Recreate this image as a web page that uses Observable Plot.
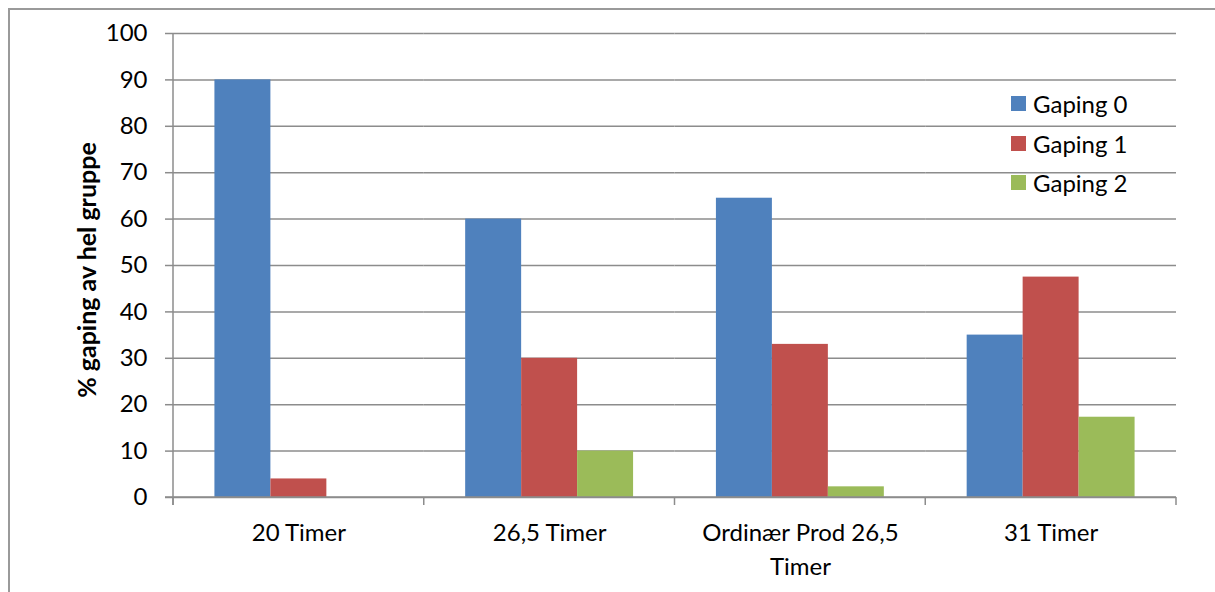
<!DOCTYPE html>
<html><head><meta charset="utf-8">
<script src="https://cdn.jsdelivr.net/npm/d3@7"></script>
<script src="https://cdn.jsdelivr.net/npm/@observablehq/plot@0.6"></script>
<style>
body{margin:0;background:#fff;font-family:Lato,"Open Sans",sans-serif;}
#wrap{position:relative;width:1215px;height:592px;overflow:hidden;background:#fff;}
#border{position:absolute;left:8px;top:8px;width:1400px;height:800px;border-left:2px solid #9a9a9a;border-top:2px solid #9a9a9a;}
#ytitle{position:absolute;left:86px;top:270px;transform:translate(-50%,-50%) rotate(-90deg);white-space:nowrap;font-weight:bold;font-size:25px;color:#000;}
#legend{position:absolute;left:1011px;top:84px;}
.row{display:flex;align-items:center;height:39.5px;}
.sw{width:15px;height:15px;margin-right:7px;flex:none;}
.lt{font-size:24px;color:#000;}
svg{position:absolute;left:0;top:0;}
</style></head>
<body><div id="wrap"><div id="border"></div></div>
<script>
const categories = ["20 Timer","26,5 Timer","Ordinær Prod 26,5 Timer","31 Timer"];
const tickLabels = ["20 Timer","26,5 Timer","Ordinær Prod 26,5\nTimer","31 Timer"];
const series = ["Gaping 0","Gaping 1","Gaping 2"];
const gaping0 = [90, 60, 64.5, 35];
const gaping1 = [4, 30, 33, 47.5];
const gaping2 = [0, 10, 2.3, 17.3];
const colors = ["#4F81BD","#C0504D","#9BBB59"];
const yTicks = [0,10,20,30,40,50,60,70,80,90,100];
const yTitle = "% gaping av hel gruppe";

const values = [gaping0, gaping1, gaping2];
const data = categories.flatMap((c,i)=>series.map((s,j)=>({category:c, series:s, value:values[j][i]})));
const labelOf = new Map(categories.map((c,i)=>[c, tickLabels[i]]));

const chart = Plot.plot({
  width:1215, height:592,
  marginLeft:173, marginRight:39, marginTop:33, marginBottom:95,
  style:{fontFamily:"Lato, 'Open Sans', sans-serif", fontSize:"24px", color:"#000", background:"transparent"},
  fx:{domain:categories, padding:0, round:false, axis:null},
  x:{domain:series, paddingInner:0, paddingOuter:0.74, round:false, axis:null},
  y:{domain:[0,100], axis:null},
  color:{domain:series, range:colors},
  marks:[
    Plot.gridY(yTicks,{stroke:"#8c8c8c", strokeOpacity:1, strokeWidth:1.5}),
    Plot.axisY(yTicks,{tickSize:8, tickPadding:18, fontSize:24, stroke:"#8c8c8c", strokeWidth:1.5, label:null}),
    Plot.barY(data,{fx:"category", x:"series", y:"value", fill:"series"}),
    Plot.text(categories,{fx:d=>d, text:d=>labelOf.get(d), frameAnchor:"bottom", lineAnchor:"top", dy:20, fontSize:24, lineHeight:1.4, fill:"#000"})
  ]
});

const wrap = document.getElementById("wrap");
wrap.appendChild(chart);

// axis lines and category boundary ticks, positioned from Plot's own scales
const fx = chart.scale("fx"), ys = chart.scale("y");
const y0 = ys.apply(0), y100 = ys.apply(100);
const bounds = categories.map(c=>fx.apply(c));
bounds.push(fx.apply(categories[categories.length-1]) + fx.bandwidth);
const svg = d3.select(chart);
const g = svg.append("g").attr("stroke","#8c8c8c").attr("stroke-width",1.5);
g.append("line").attr("x1",bounds[0]).attr("x2",bounds[0]).attr("y1",y100).attr("y2",y0+8);
g.append("line").attr("x1",bounds[0]-8).attr("x2",bounds[bounds.length-1]).attr("y1",y0).attr("y2",y0);
bounds.forEach(b=>g.append("line").attr("x1",b).attr("x2",b).attr("y1",y0).attr("y2",y0+8));

// y title
const t = document.createElement("div"); t.id="ytitle"; t.textContent=yTitle; wrap.appendChild(t);
// legend
const lg = document.createElement("div"); lg.id="legend";
series.forEach((s,i)=>{
  const r=document.createElement("div"); r.className="row";
  const sw=document.createElement("div"); sw.className="sw"; sw.style.background=colors[i];
  const lt=document.createElement("span"); lt.className="lt"; lt.textContent=s;
  r.appendChild(sw); r.appendChild(lt); lg.appendChild(r);
});
wrap.appendChild(lg);
</script></body></html>
